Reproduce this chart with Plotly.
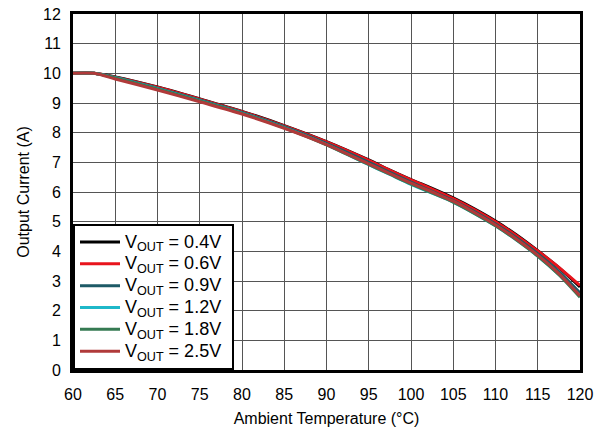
import plotly.graph_objects as go

# ambient temperature (degC)
temp = [60, 62.5, 65, 70, 75, 80, 85, 90, 95, 97.5, 100, 102.5, 105,
        107.5, 110, 112.5, 115, 117.5, 120]

# output current (A) per VOUT
i_04 = [10, 10, 9.88, 9.54, 9.14, 8.72, 8.24, 7.70, 7.08, 6.74, 6.42, 6.12, 5.80, 5.43, 5.02, 4.55, 4.02, 3.45, 2.80]
i_06 = [10, 10, 9.87, 9.53, 9.13, 8.71, 8.23, 7.69, 7.07, 6.73, 6.41, 6.10, 5.78, 5.41, 5.00, 4.53, 4.01, 3.46, 2.85]
i_09 = [10, 10, 9.86, 9.50, 9.10, 8.68, 8.20, 7.64, 7.00, 6.66, 6.33, 6.02, 5.71, 5.34, 4.92, 4.45, 3.92, 3.32, 2.60]
i_12 = [10, 10, 9.85, 9.48, 9.08, 8.66, 8.17, 7.60, 6.92, 6.59, 6.26, 5.96, 5.66, 5.28, 4.86, 4.38, 3.84, 3.22, 2.50]
i_18 = [10, 10, 9.84, 9.47, 9.07, 8.65, 8.16, 7.59, 6.93, 6.60, 6.27, 5.97, 5.66, 5.28, 4.86, 4.38, 3.84, 3.21, 2.45]
i_25 = [10, 10, 9.81, 9.44, 9.04, 8.63, 8.15, 7.60, 6.95, 6.62, 6.30, 6.00, 5.69, 5.31, 4.89, 4.41, 3.87, 3.25, 2.50]

labels = ["0.4V", "0.6V", "0.9V", "1.2V", "1.8V", "2.5V"]
series = [i_04, i_06, i_09, i_12, i_18, i_25]
colors = ["#000000", "#e8141c", "#1d5a66", "#1fb8c9", "#357a52", "#b03a3a"]

config = {'displayModeBar': False}

fig = go.Figure()
for lab, ys, c in zip(labels, series, colors):
    # bigger text than the legend font so the rows stay tight
    name = '<span style="font-size:18px">V<sub>OUT</sub> = ' + lab + "\u00a0</span>"
    fig.add_trace(go.Scatter(
        x=temp, y=ys, mode="lines", name=name,
        line=dict(color=c, width=3, shape="spline", smoothing=0.8)))

axis_font = dict(family="Liberation Sans, Arial", size=16, color="black")
fig.update_layout(
    width=603, height=429,
    margin=dict(l=73, r=23, t=14, b=59),
    paper_bgcolor="white", plot_bgcolor="white",
    font=axis_font,
    showlegend=True,
    legend=dict(x=0, y=0, xanchor="left", yanchor="bottom",
                bgcolor="white", bordercolor="black", borderwidth=2,
                font=dict(family="Liberation Sans, Arial", size=14.5, color="black"),
                tracegroupgap=0, itemwidth=40),
)
fig.update_xaxes(range=[60, 120], dtick=5, tick0=60, automargin=False,
                 showgrid=True, gridcolor="#555555", gridwidth=1,
                 showline=True, linecolor="black", linewidth=3, mirror=True,
                 ticks="", zeroline=False, ticklabelstandoff=8,
                 ticklabeloverflow="allow",
                 title=dict(text="Ambient Temperature (°C)", standoff=11,
                            font=axis_font))
fig.update_yaxes(range=[0, 12], dtick=1, tick0=0, automargin=False,
                 showgrid=True, gridcolor="#555555", gridwidth=1,
                 showline=True, linecolor="black", linewidth=3, mirror=True,
                 ticks="", zeroline=False, ticklabelstandoff=6,
                 ticklabeloverflow="allow",
                 title=dict(text="Output Current (A)", standoff=10,
                            font=axis_font))

# drop the default body margin so the figure sits at the page corner
fig.write_html("out.html", config=config,
               post_script="document.body.style.margin='0';")
